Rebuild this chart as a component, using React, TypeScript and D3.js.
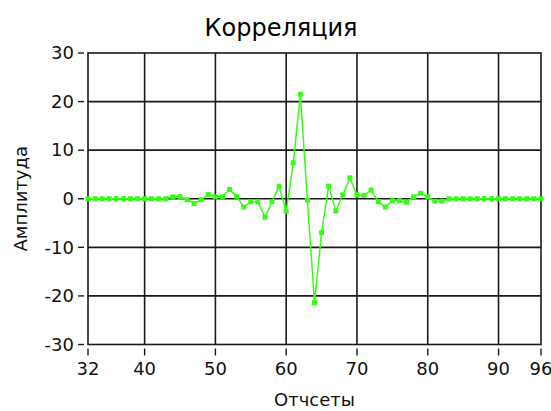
import React from "react";
import * as d3 from "d3";

const xValues: number[] = d3.range(32, 97);
const yValues: number[] = [
  0, 0, 0, 0, 0, 0, 0, 0, 0, 0, 0, 0, // 32-43
  0.4, 0.4, -0.2, -1.0, -0.2, 0.9, 0.4, 0.4, 1.9, 0.5, // 44-53
  -1.7, -0.6, -0.6, -3.8, -0.6, 2.6, -2.6, 7.4, 21.5, -0.3, // 54-63
  -21.4, -7.0, 2.6, -2.5, 0.8, 4.3, 0.8, 0.7, 1.8, -0.6, // 64-73
  -1.7, -0.4, -0.4, -0.7, 0.4, 1.1, 0.4, -0.5, -0.5, 0, // 74-83
  0, 0, 0, 0, 0, 0, 0, 0, 0, 0, 0, 0, 0, // 84-96
];
const xTicks: number[] = [32, 40, 50, 60, 70, 80, 90, 96];
const xGrid: number[] = [40, 50, 60, 70, 80, 90];
const yTicks: number[] = [-30, -20, -10, 0, 10, 20, 30];
const title = "Корреляция";
const xLabel = "Отчсеты";
const yLabel = "Амплитуда";

export default function App() {
  const W = 551, H = 411;
  const L = 88, R = 541, T = 53, B = 344.5;
  const x = d3.scaleLinear().domain([32, 96]).range([L, R]);
  const y = d3.scaleLinear().domain([-30, 30]).range([B, T]);
  const data = xValues.map((v, i) => [v, yValues[i]] as [number, number]);
  const line = d3.line<[number, number]>().x((d) => x(d[0])).y((d) => y(d[1]));
  const font = "DejaVu Sans, sans-serif";
  const gridColor = "#1a1a1a";
  const green = "#33ff11";
  return (
    <div style={{ position: "absolute", left: 0, top: 0, width: W, height: H, background: "#fff" }}>
      <svg width={W} height={H} style={{ display: "block" }}>
        <rect width={W} height={H} fill="#fff" />
        <text x={281} y={36} textAnchor="middle" fontFamily={font} fontSize={24} fill="#000">{title}</text>
        {xGrid.map((t) => (
          <line key={"gx" + t} x1={x(t)} x2={x(t)} y1={T} y2={B} stroke={gridColor} strokeWidth={1.6} />
        ))}
        {yTicks.filter((t) => t !== -30 && t !== 30).map((t) => (
          <line key={"gy" + t} x1={L} x2={R} y1={y(t)} y2={y(t)} stroke={gridColor} strokeWidth={1.6} />
        ))}
        <rect x={L} y={T} width={R - L} height={B - T} fill="none" stroke={gridColor} strokeWidth={1.6} />
        {yTicks.map((t) => (
          <g key={"yt" + t}>
            <line x1={L - 10} x2={L - 4} y1={y(t)} y2={y(t)} stroke={gridColor} strokeWidth={1.4} />
            <text x={L - 14} y={y(t)} dy="0.35em" textAnchor="end" fontFamily={font} fontSize={18} fill="#111">{t}</text>
          </g>
        ))}
        {xTicks.map((t) => (
          <g key={"xt" + t}>
            <line x1={x(t)} x2={x(t)} y1={B + 4} y2={B + 11} stroke={gridColor} strokeWidth={1.4} />
            <text x={x(t)} y={B + 30} textAnchor="middle" fontFamily={font} fontSize={18} fill="#111">{t}</text>
          </g>
        ))}
        <text x={(L + R) / 2} y={406} textAnchor="middle" fontFamily={font} fontSize={18} fill="#111">{xLabel}</text>
        <text transform={`translate(27,${(T + B) / 2}) rotate(-90)`} textAnchor="middle" fontFamily={font} fontSize={18} fill="#111">{yLabel}</text>
        <path d={line(data) || ""} fill="none" stroke={green} strokeWidth={1.5} />
        {data.map((d, i) => (
          <rect key={"p" + i} x={x(d[0]) - 2.5} y={y(d[1]) - 2.5} width={5} height={5} fill={green} />
        ))}
      </svg>
    </div>
  );
}
